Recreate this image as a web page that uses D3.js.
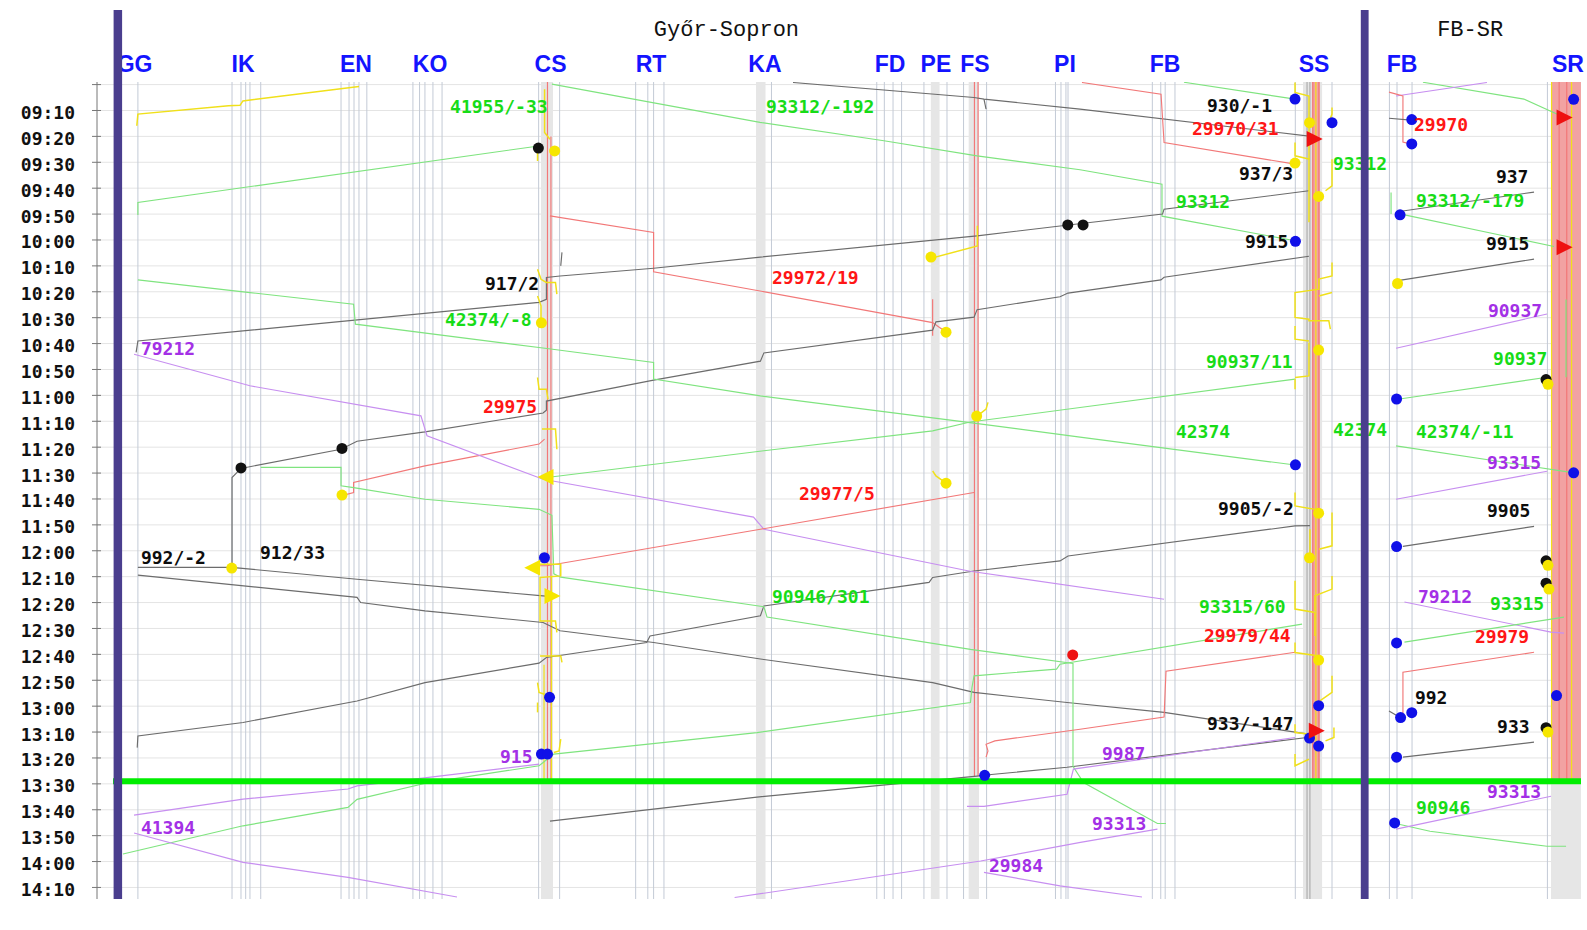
<!DOCTYPE html>
<html><head><meta charset="utf-8">
<script src="https://cdn.jsdelivr.net/npm/d3@7"></script>
<style>body{margin:0;background:#fff}svg{display:block}</style>
</head><body><svg id="c" width="1587" height="930"></svg>
<script>
// ---------------- DATA ----------------
const timeTicks = ["09:00","09:10","09:20","09:30","09:40","09:50","10:00","10:10","10:20","10:30","10:40","10:50","11:00","11:10","11:20","11:30","11:40","11:50","12:00","12:10","12:20","12:30","12:40","12:50","13:00","13:10","13:20","13:30","13:40","13:50","14:00","14:10"];
const nowTime = "13:29";
// panel title, panel, km of title centre
const panelTitles = [["Győr-Sopron", 1, 42.65], ["FB-SR", 2, 5.3]];

// stations: code, label km, track km list, grey band
const stations1 = [
 ["GG",-0.24,[0],null],
 ["IK",7.62,[6.82,7.47,7.81,8.12,8.9],null],
 ["EN",15.8,[14.72,15.3,15.66,16.02,16.59],null],
 ["KO",21.17,[19.93,20.41,20.8,21.38,22.04],null],
 ["CS",29.9,[29.04,30.56],[29.21,30.08]],
 ["RT",37.18,[36.07,36.95,37.37,38.12],null],
 ["KA",45.44,[45.91],[44.79,45.48]],
 ["FD",54.5,[53.54,54.09,54.72,55.34],null],
 ["PE",57.83,[56.96,58.63],[57.46,58.09]],
 ["FS",60.66,[59.83,61.5],[60.2,60.95]],
 ["PI",67.18,[66.49,66.89,67.25,67.4],null],
 ["FB",74.43,[73.51,74.12,74.44,75.15],null],
 ["SS",85.23,[83.87,86.53],[84.43,85.81]]
];
const stations2 = [
 ["FB",0.36,[-0.55,0,1.09],null],
 ["SR",12.39,[10.9],[11.16,13.33]]
];
const darkTracks1 = [84.72, 84.93];
const redBands1 = [[85.07,85.65]];
const redBands2 = [[11.16,13.33]];
const occ1 = [
 ["r",29.68,"08:59","13:29"],["r",29.93,"09:20","13:29"],
 ["r",60.62,"08:59","13:27"],["r",60.88,"08:59","13:27"],
 ["r",85.14,"08:59","13:29"],["r",85.58,"08:59","13:29"],
 ["y",85.36,"08:59","13:29"],
 ["y",29.43,"12:44","13:29"],["y",29.97,"12:10","13:29"],
 ["r",57.59,"10:22.9","10:37"]
];
const occ2 = [
 ["y",11.2,"08:59","13:29"],["r",11.75,"08:59","13:29"],
 ["r",12.3,"08:59","13:29"],["y",12.65,"08:59","13:29"],
 ["g",12.25,"10:23","10:53"]
];

// trains: kind, [km, time] vertices
const trains1 = [
 ["y",[[16.02,"09:00.7"],[7.61,"09:06.3"],[7.4,"09:08"],[6.57,"09:08.2"],[0,"09:11.4"],[-0.08,"09:15.9"]]],
 ["g",[[29.04,"09:23.7"],[0,"09:45.5"],[0,"09:50.4"]]],
 ["g",[[30.0,"08:59.8"],[45.08,"09:14.6"],[54.06,"09:21.7"],[60.81,"09:27.5"],[68.27,"09:32.9"],[74.21,"09:38.5"],[74.21,"09:50.8"],[83.85,"10:00.3"]]],
 ["k",[[47.47,"08:59.2"],[60.59,"09:05"],[61.31,"09:05.6"],[68.27,"09:09.5"],[84.86,"09:19.9"]]],
 ["k",[[61.31,"09:05.6"],[61.46,"09:09.5"]]],
 ["r",[[68.41,"08:59.2"],[74.14,"09:03.7"],[74.36,"09:22.4"],[83.85,"09:30.7"]]],
 ["g",[[75.8,"08:59.1"],[83.85,"09:05.6"]]],
 ["r",[[29.86,"09:50.7"],[37.37,"09:57.1"],[37.37,"10:12.3"],[45.08,"10:19.7"],[57.59,"10:31.9"],[58.09,"10:33.8"],[58.63,"10:35.6"]]],
 ["k",[[84.86,"09:41"],[74.36,"09:48.1"],[74.25,"09:50"],[66.82,"09:54.6"],[60.81,"09:58.4"],[45.11,"10:06.6"],[37.37,"10:10.9"],[30.59,"10:13.9"],[29.6,"10:14.5"],[29.6,"10:22.9"],[29.07,"10:24.1"],[0,"10:39"],[-0.13,"10:43.4"]]],
 ["k",[[30.64,"10:10"],[30.73,"10:04.8"]]],
 ["k",[[84.86,"10:06.3"],[74.36,"10:14.4"],[74.13,"10:15.4"],[67.4,"10:20.5"],[66.82,"10:21.9"],[60.81,"10:26.9"],[60.59,"10:29.8"],[57.83,"10:31.6"],[57.59,"10:34.8"],[45.36,"10:43.6"],[45.11,"10:46.8"],[37.37,"10:54.1"],[29.6,"11:02.2"],[29.6,"11:05.7"],[29.36,"11:06.8"],[20.8,"11:14.1"],[15.88,"11:17.7"],[14.72,"11:20.8"],[7.47,"11:28.2"],[6.82,"11:31.7"],[6.82,"12:07.2"]]],
 ["k",[[0,"12:06.4"],[6.78,"12:06.4"],[15.88,"12:11"],[29.36,"12:17.4"],[30.26,"12:17.9"]]],
 ["k",[[0,"12:09.4"],[15.88,"12:18"],[16.14,"12:20"],[20.8,"12:23.2"],[29.36,"12:27.7"],[30.59,"12:30.9"],[37.37,"12:35.4"],[45.11,"12:41.8"],[57.59,"12:50.9"],[60.59,"12:54.7"],[67.33,"12:58.6"],[74.36,"13:02.4"],[84.84,"13:10.8"]]],
 ["k",[[84.93,"11:50.3"],[83.85,"11:50.4"],[67.4,"12:02"],[66.82,"12:03.9"],[60.59,"12:07.8"],[57.59,"12:10.3"],[57.33,"12:12.2"],[45.36,"12:21.3"],[45.11,"12:25.1"],[37.11,"12:32.9"],[36.87,"12:35.4"],[29.6,"12:41.2"],[29.07,"12:43.4"],[20.8,"12:50.9"],[15.88,"12:58"],[7.62,"13:06.3"],[0,"13:11.5"],[-0.05,"13:16"]]],
 ["k",[[84.86,"13:12"],[67.33,"13:23.6"],[61.46,"13:26.6"],[60.81,"13:27"],[44.86,"13:35.1"],[29.86,"13:44.4"]]],
 ["r",[[29.47,"11:16.9"],[29.07,"11:18.8"],[20.8,"11:27.2"],[15.63,"11:33.6"],[15.63,"11:37.5"],[14.72,"11:38.8"]]],
 ["g",[[0,"10:15.4"],[8.12,"10:20.3"],[15.63,"10:24.8"],[15.76,"10:32.5"],[29.64,"10:41.9"],[37.37,"10:47.3"],[37.37,"10:53.7"],[45.11,"11:00.2"],[60.3,"11:10.5"],[68.27,"11:16.1"],[83.85,"11:26.9"]]],
 ["g",[[83.85,"10:53.7"],[68.27,"11:04.7"],[60.3,"11:10.3"],[57.59,"11:13.7"],[45.36,"11:21.4"],[29.64,"11:31.7"]]],
 ["p",[[-0.28,"10:44.1"],[8.12,"10:56.3"],[20.51,"11:07.9"],[20.95,"11:15.6"],[29.36,"11:32.4"],[44.61,"11:47"],[45.36,"11:51.7"],[60.3,"12:07.9"],[74.36,"12:18.7"]]],
 ["g",[[8.9,"11:27.8"],[14.72,"11:27.8"],[14.72,"11:34.9"],[15.63,"11:35.6"],[20.8,"11:40.1"],[29.07,"11:44"],[30.0,"11:46.3"],[30.14,"12:08.9"],[30.64,"12:10.2"],[45.36,"12:21.6"],[45.59,"12:25.6"],[60.33,"12:38.1"],[67.76,"12:43.5"],[67.76,"13:23.2"],[68.52,"13:29.5"],[73.88,"13:45.3"],[74.5,"13:45.3"]]],
 ["g",[[84.36,"12:28.3"],[66.82,"12:43.8"],[66.57,"12:45.7"],[60.59,"12:48.3"],[60.44,"12:52.8"],[60.33,"12:58.6"],[44.86,"13:10.2"],[30.14,"13:18.5"],[29.07,"13:23"],[21.07,"13:29.5"],[15.88,"13:36"],[15.22,"13:39.1"],[7.62,"13:46.2"],[-1.08,"13:57.1"]]],
 ["p",[[29.07,"13:22.4"],[21.07,"13:27.5"],[15.88,"13:30.8"],[15.22,"13:32"],[7.62,"13:35.9"],[-0.28,"13:42.1"]]],
 ["p",[[-0.28,"13:49"],[7.62,"14:00.3"],[15.22,"14:06.1"],[23.12,"14:13.7"]]],
 ["p",[[73.88,"13:47.5"],[68.3,"13:52.6"],[61.07,"13:59.8"],[43.24,"14:13.9"]]],
 ["p",[[61.31,"14:04.2"],[66.82,"14:09.4"],[72.76,"14:13.7"]]],
 ["p",[[83.85,"13:12.1"],[67.79,"13:24.3"],[67.33,"13:34"],[61.31,"13:38.7"],[60.08,"13:38.7"]]],
 ["r",[[60.59,"11:37.5"],[45.11,"11:51.7"],[29.64,"12:05.8"],[29.07,"12:05.8"]]],
 ["r",[[83.85,"12:39.2"],[74.5,"12:46.5"],[74.36,"13:04.2"],[68.27,"13:08.9"],[62.1,"13:13.4"],[61.46,"13:14.7"],[61.6,"13:17.3"],[61.46,"13:19.7"]]],
 // yellow shunting moves
 ["y",[[57.45,"10:07.1"],[60.83,"10:02.3"],[60.83,"09:54.5"]]],
 ["y",[[57.59,"11:29.2"],[57.83,"11:31.1"],[58.66,"11:34.3"]]],
 ["y",[[61.6,"11:02.7"],[61.46,"11:05.3"],[60.81,"11:08"]]],
 ["y",[[29.47,"09:01.8"],[29.47,"09:18.5"],[29.86,"09:21.1"]]],
 ["y",[[28.96,"09:25.6"],[28.96,"09:29.5"]]],
 ["y",[[28.96,"10:11.3"],[29.21,"10:15.2"],[29.6,"10:16.4"],[30.26,"10:16.4"],[30.36,"10:20.9"]]],
 ["y",[[28.96,"10:21.6"],[29.21,"10:25.4"],[29.21,"10:31.9"]]],
 ["y",[[28.96,"10:53.1"],[29.07,"10:57.6"],[29.6,"10:57.6"],[29.72,"11:01.5"]]],
 ["y",[[29.28,"11:13"],[30.26,"11:13"],[30.36,"11:20.8"]]],
 ["y",[[29.14,"12:05.2"],[30.64,"12:05.2"],[30.64,"12:09.7"],[29.14,"12:10.3"],[29.14,"12:27.1"],[30.26,"12:27.1"],[30.36,"12:31.5"]]],
 ["y",[[29.14,"12:40.6"],[30.64,"12:40.6"],[30.73,"12:43.1"]]],
 ["y",[[28.96,"12:50.9"],[29.07,"12:54.7"],[29.47,"12:55.4"]]],
 ["y",[[28.96,"12:58.6"],[28.96,"13:02.4"]]],
 ["y",[[30.64,"13:12.7"],[30.52,"13:17.3"],[30.14,"13:17.9"]]],
 ["y",[[83.85,"08:59.2"],[83.85,"09:03"],[84.86,"09:04.4"],[84.86,"09:53.2"]]],
 ["y",[[86.53,"09:08.8"],[86.53,"09:11.4"],[86.3,"09:14.6"]]],
 ["y",[[83.85,"09:22.4"],[83.85,"09:27.5"],[84.93,"09:28.8"]]],
 ["y",[[86.53,"09:28.8"],[86.53,"09:39.1"],[86.06,"09:41"]]],
 ["y",[[86.53,"10:08.7"],[86.53,"10:13.9"],[85.58,"10:15.1"],[85.58,"10:19"],[83.85,"10:20.3"],[83.85,"10:29.9"],[84.86,"10:30.6"],[84.86,"10:31.2"],[86.3,"10:31.2"],[86.41,"10:34.4"]]],
 ["y",[[85.58,"10:21.6"],[86.53,"10:20.3"]]],
 ["y",[[83.85,"10:33.2"],[83.85,"10:38.3"],[84.86,"10:39"]]],
 ["y",[[84.86,"10:39.6"],[84.86,"10:52.5"],[83.85,"10:53.1"]]],
 ["y",[[83.85,"10:53.7"],[83.85,"10:57.6"]]],
 ["y",[[83.85,"11:37.5"],[83.85,"11:42.7"],[85.29,"11:44"],[85.29,"11:47.1"]]],
 ["y",[[84.93,"11:51.7"],[84.93,"12:02"]]],
 ["y",[[86.53,"11:45.2"],[86.53,"11:58.1"],[85.58,"11:59.4"]]],
 ["y",[[83.85,"12:11.6"],[83.85,"12:22.5"],[85.29,"12:23.8"],[85.29,"12:32.9"]]],
 ["y",[[86.53,"12:09.7"],[86.53,"12:14.8"],[85.29,"12:17.4"],[85.29,"12:23.2"]]],
 ["y",[[83.85,"12:35.4"],[83.85,"12:39.3"],[85.58,"12:40.6"],[85.58,"12:43.1"]]],
 ["y",[[83.85,"13:07"],[83.85,"13:10.2"],[84.93,"13:10.8"]]],
 ["y",[[86.53,"12:48.3"],[86.53,"12:54.7"],[85.65,"12:58"]]],
 ["y",[[86.67,"13:08.2"],[86.67,"13:12.1"],[86.06,"13:13.4"]]],
 ["y",[[83.85,"13:18.5"],[83.85,"13:23"],[84.86,"13:20.5"]]]
];
const trains2 = [
 ["g",[[1.88,"08:59.1"],[9.2,"09:05.6"],[12.1,"09:12.6"]]],
 ["p",[[-0.07,"09:04.4"],[6.52,"08:59.2"]]],
 ["r",[[-0.58,"09:02.9"],[0.43,"09:04.4"],[0.43,"09:22.2"],[1.01,"09:23"]]],
 ["k",[[-0.58,"09:13"],[1.01,"09:13.7"]]],
 ["k",[[0.29,"09:48.9"],[9.93,"09:41.5"]]],
 ["g",[[0.29,"09:50"],[11.38,"10:02.5"]]],
 ["g",[[-0.43,"09:41.7"],[-0.43,"09:50"]]],
 ["k",[[0.29,"10:15.5"],[9.93,"10:07.4"]]],
 ["p",[[-0.07,"10:41.8"],[10.87,"10:28.6"]]],
 ["g",[[0.07,"11:01.5"],[10.87,"10:53"]]],
 ["g",[[-0.07,"11:19.5"],[12.83,"11:29.9"]]],
 ["p",[[-0.07,"11:40.1"],[10.87,"11:29.3"]]],
 ["k",[[0.43,"11:58.3"],[9.93,"11:50.6"]]],
 ["p",[[0.54,"12:19.8"],[11.16,"12:31.4"],[12.1,"12:31.8"]]],
 ["g",[[0.54,"12:35.3"],[12.1,"12:25.6"]]],
 ["r",[[0.43,"13:02.7"],[0.43,"12:46.9"],[9.93,"12:39.2"]]],
 ["k",[[-0.58,"13:01.9"],[0.29,"13:04.6"]]],
 ["k",[[0.43,"13:19.7"],[9.93,"13:13.9"]]],
 ["g",[[-0.18,"13:45.2"],[2.39,"13:48.3"],[10.87,"13:54.1"],[12.25,"13:54.1"]]],
 ["p",[[-0.07,"13:47.5"],[11.16,"13:34.8"]]]
];

// dots: kind, km, time
const dots1 = [
 ["k",29.02,"09:24.5"],["y",30.2,"09:25.6"],["k",67.38,"09:54.2"],["k",68.49,"09:54.2"],
 ["k",7.47,"11:28"],["k",14.79,"11:20.5"],
 ["y",57.47,"10:06.6"],["y",58.56,"10:35.6"],["y",29.24,"10:32"],["y",60.78,"11:08"],["y",58.56,"11:33.9"],["y",14.79,"11:38.5"],["y",6.8,"12:06.7"],
 ["y",84.9,"09:14.7"],["y",83.85,"09:30.3"],["y",85.56,"09:43.2"],["y",85.56,"10:42.5"],["y",85.56,"11:45.5"],["y",84.9,"12:02.7"],["y",85.56,"12:42.2"],
 ["b",83.85,"09:05.6"],["b",86.53,"09:14.7"],["b",83.88,"10:00.5"],["b",83.88,"11:26.8"],["b",85.56,"12:59.8"],["b",84.9,"13:12.3"],["b",85.56,"13:15.4"],
 ["b",29.46,"12:02.7"],["b",29.83,"12:56.6"],["b",29.24,"13:18.5"],["b",29.68,"13:18.5"],["b",61.36,"13:26.7"],
 ["r",67.74,"12:40.2"]
];
const dots2 = [
 ["b",1.07,"09:13.5"],["b",1.07,"09:22.9"],["b",0.22,"09:50.3"],["y",0.04,"10:16.8"],["b",-0.03,"11:01.4"],["b",-0.03,"11:58.4"],["b",-0.03,"12:35.6"],["b",0.26,"13:04.4"],["b",1.07,"13:02.5"],["b",-0.03,"13:19.7"],["b",-0.17,"13:45.1"],
 ["b",12.8,"09:05.7"],["b",12.8,"11:29.9"],["b",11.56,"12:55.9"],
 ["k",10.8,"10:53.9"],["y",10.94,"10:55.7"],["k",10.8,"12:03.9"],["y",10.94,"12:05.6"],["k",10.8,"12:12.5"],["y",11.01,"12:14.8"],["k",10.8,"13:08.3"],["y",10.94,"13:10"]
];
// triangles: kind, direction, km, time
const tris1 = [["r","R",85.2,"09:21"],["r","R",85.35,"13:09.5"],["y","L",29.61,"11:31.5"],["y","L",28.65,"12:06.6"],["y","R",29.97,"12:17.5"]];
const tris2 = [["r","R",12.07,"09:12.7"],["r","R",12.07,"10:02.8"]];

// labels: text, kind, km (left), time (centre)
const labels1 = [
 ["41955/-33","g",22.62,"09:08.5"],["93312/-192","g",45.51,"09:08.5"],["930/-1","k",77.47,"09:08"],
 ["29970/31","r",76.38,"09:17"],["937/3","k",79.79,"09:34.2"],["93312","g",86.6,"09:30.3"],
 ["93312","g",75.22,"09:45.2"],["9915","k",80.22,"10:00.5"],["917/2","k",25.15,"10:16.8"],
 ["29972/19","r",45.95,"10:14.4"],["42374/-8","g",22.25,"10:30.6"],["79212","p",0.22,"10:41.8"],
 ["90937/11","g",77.4,"10:46.8"],["29975","r",25,"11:04.2"],["42374","g",75.22,"11:13.8"],
 ["42374","g",86.6,"11:13"],["29977/5","r",47.9,"11:37.8"],["9905/-2","k",78.27,"11:43.5"],
 ["992/-2","k",0.22,"12:02.7"],["912/33","k",8.85,"12:00.8"],["90946/301","g",45.95,"12:17.5"],
 ["93315/60","g",76.89,"12:21.4"],["29979/44","r",77.25,"12:32.8"],["933/-147","k",77.47,"13:06.8"],
 ["9987","p",69.86,"13:18.1"],["915","p",26.24,"13:19.3"],["41394","p",0.22,"13:46.7"],
 ["93313","p",69.14,"13:45.5"],["29984","p",61.67,"14:01.4"]
];
const labels2 = [
 ["29970","r",1.23,"09:15.5"],["937","k",7.17,"09:35.4"],["93312/-179","g",1.38,"09:44.8"],
 ["9915","k",6.45,"10:01.2"],["90937","p",6.59,"10:27.1"],["90937","g",6.96,"10:45.6"],
 ["42374/-11","g",1.38,"11:13.8"],["93315","p",6.52,"11:25.8"],["9905","k",6.52,"11:44.3"],
 ["79212","p",1.52,"12:17.5"],["93315","g",6.74,"12:20.2"],["29979","r",5.65,"12:33"],
 ["992","k",1.3,"12:56.5"],["933","k",7.25,"13:07.7"],["93313","p",6.52,"13:32.8"],
 ["90946","g",1.38,"13:39"]
];

// ---------------- STYLE ----------------
const LINE = {g:"#7fe47f", r:"#f27878", p:"#c78ff0", k:"#6c6c6c", y:"#f0e01a"};
const TEXT = {g:"#17dc17", r:"#ff1616", p:"#a330e6", k:"#0d0d0d"};
const DOT = {b:"#1010e8", y:"#f6e600", k:"#111111", r:"#ee1111"};
const MONO = "'DejaVu Sans Mono', 'Liberation Mono', monospace";

// ---------------- CHART ----------------
const tm = s => { const [h, m] = s.split(":"); return +h * 60 + parseFloat(m); };
const svg = d3.select("#c");
const y = d3.scaleLinear().domain([tm("08:59"), tm("14:15")]).range([82.0, 900.4]);
const x1 = d3.scaleLinear().domain([0, 85]).range([137.9, 1310.9]);
const x2 = d3.scaleLinear().domain([0, 11.5]).range([1397, 1555.7]);
const yTop = y(tm("08:59")), yBot = 899;
const panels = [
 {x:x1, left:122, right:1360.8, stations:stations1, trains:trains1, dots:dots1, tris:tris1, labels:labels1, occ:occ1, red:redBands1, id:"p1"},
 {x:x2, left:1368.6, right:1581, stations:stations2, trains:trains2, dots:dots2, tris:tris2, labels:labels2, occ:occ2, red:redBands2, id:"p2"}
];
const defs = svg.append("defs");
panels.forEach(P => {
  defs.append("clipPath").attr("id", "clip" + P.id).append("rect")
    .attr("x", P.left).attr("y", yTop).attr("width", P.right - P.left).attr("height", yBot - yTop);
});
const yNow = y(tm(nowTime));

// horizontal grid
svg.append("g").selectAll("line").data(timeTicks).join("line")
  .attr("x1", 97).attr("x2", 1581).attr("y1", d => y(tm(d))).attr("y2", d => y(tm(d)))
  .attr("stroke", "#e4e4e4").attr("stroke-width", 1);

panels.forEach(P => {
  const g = svg.append("g").attr("clip-path", `url(#clip${P.id})`);
  g.selectAll("rect.band").data(P.stations.filter(s => s[3])).join("rect").attr("class","band")
    .attr("x", s => P.x(s[3][0])).attr("width", s => P.x(s[3][1]) - P.x(s[3][0]))
    .attr("y", yTop).attr("height", yBot - yTop).attr("fill", "#e6e6e6");
  g.selectAll("rect.red").data(P.red).join("rect").attr("class","red")
    .attr("x", d => P.x(d[0])).attr("width", d => P.x(d[1]) - P.x(d[0]))
    .attr("y", yTop).attr("height", yNow - yTop).attr("fill", "#f2a2a2");
  const tracks = P.stations.flatMap(s => s[2]);
  g.selectAll("line.trk").data(tracks).join("line").attr("class","trk")
    .attr("x1", d => P.x(d)).attr("x2", d => P.x(d)).attr("y1", yTop).attr("y2", yBot)
    .attr("stroke", "#c3cad6").attr("stroke-width", 1);
  if (P.id === "p1") {
    g.selectAll("line.dk").data(darkTracks1).join("line").attr("class","dk")
      .attr("x1", d => P.x(d)).attr("x2", d => P.x(d)).attr("y1", yTop).attr("y2", yBot)
      .attr("stroke", "#a4a4a4").attr("stroke-width", 1);
  }
  g.selectAll("line.occ").data(P.occ).join("line").attr("class","occ")
    .attr("x1", d => P.x(d[1])).attr("x2", d => P.x(d[1]))
    .attr("y1", d => y(tm(d[2]))).attr("y2", d => y(tm(d[3])))
    .attr("stroke", d => LINE[d[0]]).attr("stroke-width", 1.2);
  const line = d3.line().x(d => P.x(d[0])).y(d => y(tm(d[1])));
  g.selectAll("path.tr").data(P.trains).join("path").attr("class","tr")
    .attr("d", d => line(d[1])).attr("fill", "none")
    .attr("stroke", d => LINE[d[0]]).attr("stroke-width", d => d[0] === "y" ? 1.5 : 1.15);
});

// now line
svg.append("line").attr("x1", 113).attr("x2", 1581).attr("y1", yNow).attr("y2", yNow)
  .attr("stroke", "#00ee00").attr("stroke-width", 6);

panels.forEach(P => {
  const g = svg.append("g");
  g.selectAll("circle").data(P.dots).join("circle")
    .attr("cx", d => P.x(d[1])).attr("cy", d => y(tm(d[2]))).attr("r", 5.5)
    .attr("fill", d => DOT[d[0]]);
  g.selectAll("path").data(P.tris).join("path")
    .attr("d", d => d[1] === "R" ? "M-7,-8L9,0L-7,8Z" : "M7,-8L-9,0L7,8Z")
    .attr("transform", d => `translate(${P.x(d[2])},${y(tm(d[3]))})`)
    .attr("fill", d => DOT[d[0]]);
  g.selectAll("text").data(P.labels).join("text")
    .attr("x", d => P.x(d[2])).attr("y", d => y(tm(d[3])))
    .attr("dominant-baseline", "central")
    .attr("font-family", MONO).attr("font-weight", "bold").attr("font-size", 18)
    .attr("fill", d => TEXT[d[1]]).text(d => d[0]);
  svg.append("g").selectAll("text").data(P.stations).join("text")
    .attr("x", s => P.x(s[1])).attr("y", 71.5).attr("text-anchor", "middle")
    .attr("font-family", "'Liberation Sans', Arial, sans-serif").attr("font-weight", "bold")
    .attr("font-size", 23).attr("fill", "#1414ff").text(s => s[0]);
});

// panel titles
svg.append("g").selectAll("text").data(panelTitles).join("text")
  .attr("x", d => panels[d[1]-1].x(d[2]))
  .attr("y", 30).attr("text-anchor", "middle").attr("dominant-baseline", "central")
  .attr("font-family", "'Liberation Mono', monospace").attr("font-size", 22).attr("fill", "#111")
  .text(d => d[0]);

// y axis
const ax = svg.append("g");
ax.append("line").attr("x1", 97).attr("x2", 97).attr("y1", yTop).attr("y2", yBot).attr("stroke", "#777");
ax.selectAll("line.t").data(timeTicks).join("line").attr("class","t")
  .attr("x1", 92).attr("x2", 101).attr("y1", d => y(tm(d))).attr("y2", d => y(tm(d))).attr("stroke", "#777");
ax.selectAll("text").data(timeTicks.slice(1)).join("text")
  .attr("x", 75).attr("y", d => y(tm(d)) + 2).attr("text-anchor", "end").attr("dominant-baseline", "central")
  .attr("font-family", MONO).attr("font-weight", "bold").attr("font-size", 18).attr("fill", "#111")
  .text(d => d);

// panel separator bars
svg.append("g").selectAll("rect").data([[113.6, 8.5], [1360.8, 7.8]]).join("rect")
  .attr("x", d => d[0]).attr("width", d => d[1]).attr("y", 10).attr("height", yBot - 10)
  .attr("fill", "#4a3e8e");
</script></body></html>
